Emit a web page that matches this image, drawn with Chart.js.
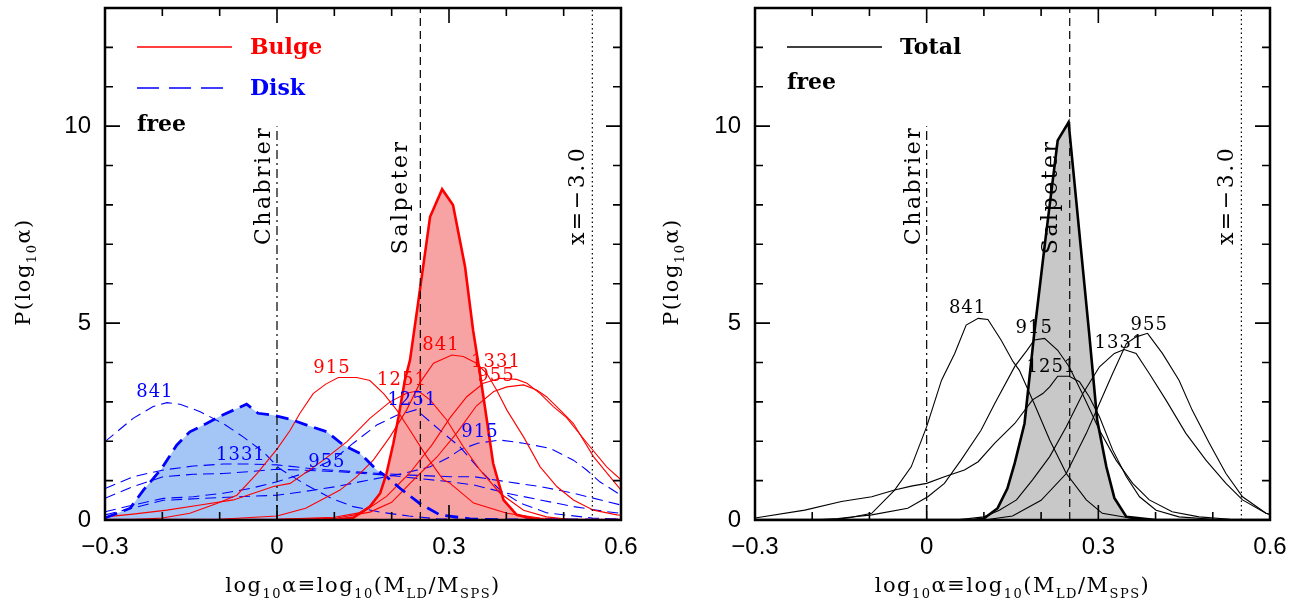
<!DOCTYPE html>
<html>
<head>
<meta charset="utf-8">
<title>IMF mismatch distributions</title>
<script src="https://cdn.jsdelivr.net/npm/chart.js@4.4.1/dist/chart.umd.min.js"></script>
<style>
  html, body { margin: 0; padding: 0; background: #fff; }
  #wrap { position: relative; width: 1295px; height: 604px; overflow: hidden; }
  canvas { position: absolute; top: 0; }
</style>
</head>
<body>
<div id="wrap">
  <canvas id="bulgeDisk" width="648" height="604" style="left:0"></canvas>
  <canvas id="total" width="647" height="604" style="left:648px"></canvas>
</div>
<script>
// axis ticks
const xTicks = [-0.3, 0, 0.3, 0.6];
const yTicks = [0, 5, 10];

// reference IMFs (log10 alpha)
const imfNames = ['Chabrier', 'Salpeter', 'x=\u22123.0'];
const imfValues = [0, 0.25, 0.55];

// galaxy ids, same order in every label list below
const runIds = ['841', '915', '955', '1251', '1331'];

// P(log10 alpha), bulge component  [log10 alpha, P]
const bulgeTotal = [[-0.3,0],[0.1,0],[0.133,0.06],[0.162,0.34],[0.18,0.68],[0.191,1.18],[0.203,1.95],[0.212,2.62],[0.223,3.55],[0.232,4.06],[0.246,5.5],[0.267,7.7],[0.288,8.4],[0.307,8.0],[0.328,6.43],[0.342,4.82],[0.354,3.72],[0.366,2.54],[0.377,1.44],[0.395,0.51],[0.418,0.13],[0.441,0.05],[0.47,0],[0.6,0]];
const bulge841 = [[-0.3,0],[-0.1,0.02],[0,0.1],[0.05,0.3],[0.11,0.76],[0.139,1.1],[0.168,1.52],[0.197,2.11],[0.226,2.79],[0.25,3.5],[0.273,3.98],[0.305,4.19],[0.325,4.15],[0.348,3.98],[0.366,3.72],[0.383,3.3],[0.401,2.79],[0.43,2.11],[0.459,1.35],[0.488,0.85],[0.517,0.51],[0.552,0.25],[0.593,0.13],[0.6,0.12]];
const bulge915 = [[-0.3,0],[-0.25,0.01],[-0.2,0.05],[-0.152,0.17],[-0.105,0.42],[-0.07,0.63],[-0.035,1.18],[0,1.8],[0.023,2.28],[0.04,2.71],[0.063,3.21],[0.085,3.45],[0.107,3.62],[0.139,3.62],[0.162,3.54],[0.186,3.21],[0.209,2.79],[0.232,2.28],[0.261,1.61],[0.29,1.02],[0.302,0.93],[0.343,0.43],[0.401,0.17],[0.459,0.05],[0.52,0],[0.6,0]];
const bulge955 = [[-0.3,0],[0,0.01],[0.1,0.04],[0.162,0.2],[0.2,0.45],[0.232,0.93],[0.279,1.6],[0.313,2.2],[0.348,2.9],[0.378,3.26],[0.401,3.38],[0.43,3.43],[0.453,3.3],[0.47,3.13],[0.494,2.79],[0.517,2.45],[0.552,1.61],[0.6,0.76]];
const bulge1251 = [[-0.3,0.08],[-0.251,0.15],[-0.192,0.25],[-0.134,0.38],[-0.076,0.51],[-0.006,0.85],[0.023,0.93],[0.081,1.52],[0.122,1.99],[0.162,2.58],[0.197,3.0],[0.226,3.22],[0.246,3.28],[0.267,3.05],[0.296,2.54],[0.325,1.86],[0.354,1.27],[0.389,0.68],[0.43,0.25],[0.47,0.08],[0.52,0],[0.6,0]];
const bulge1331 = [[-0.3,0],[0,0.02],[0.1,0.07],[0.15,0.2],[0.191,0.6],[0.232,1.2],[0.27,1.9],[0.302,2.6],[0.331,3.13],[0.36,3.47],[0.389,3.6],[0.418,3.57],[0.436,3.47],[0.459,3.21],[0.482,2.88],[0.505,2.6],[0.546,1.86],[0.575,1.35],[0.6,1.02]];

// P(log10 alpha), disk component
const diskTotal = [[-0.3,0.05],[-0.256,0.3],[-0.233,0.76],[-0.201,1.31],[-0.175,1.9],[-0.152,2.24],[-0.123,2.45],[-0.099,2.64],[-0.076,2.79],[-0.053,2.94],[-0.033,2.71],[-0.006,2.66],[0.023,2.56],[0.052,2.41],[0.087,2.24],[0.116,1.9],[0.145,1.69],[0.174,1.27],[0.191,1.1],[0.215,0.8],[0.249,0.42],[0.284,0.13],[0.337,0.03],[0.4,0],[0.6,0]];
const disk841 = [[-0.3,1.99],[-0.251,2.58],[-0.216,2.88],[-0.192,2.98],[-0.169,2.94],[-0.134,2.75],[-0.094,2.45],[-0.059,2.11],[-0.024,1.73],[0.005,1.3],[0.05,0.9],[0.095,0.55],[0.133,0.34],[0.18,0.2],[0.23,0.1],[0.28,0.03],[0.35,0],[0.6,0]];
const disk915 = [[-0.3,0.13],[-0.198,0.5],[-0.1,0.57],[0,0.63],[0.046,0.72],[0.104,0.85],[0.162,1.02],[0.22,1.18],[0.267,1.35],[0.302,1.61],[0.319,1.78],[0.35,1.95],[0.389,2.03],[0.43,1.95],[0.476,1.82],[0.517,1.52],[0.54,1.27],[0.563,0.97],[0.6,0.63]];
const disk955 = [[-0.3,0.55],[-0.251,0.85],[-0.198,1.1],[-0.146,1.16],[-0.094,1.18],[-0.047,1.23],[0,1.29],[0.104,1.23],[0.191,1.14],[0.302,0.97],[0.343,0.89],[0.401,0.68],[0.459,0.51],[0.517,0.34],[0.575,0.21],[0.6,0.17]];
const disk1251 = [[-0.3,0.21],[-0.251,0.38],[-0.198,0.55],[-0.146,0.59],[-0.094,0.68],[-0.047,0.8],[0,0.97],[0.05,1.2],[0.1,1.55],[0.133,1.95],[0.174,2.41],[0.209,2.66],[0.243,2.8],[0.284,2.28],[0.319,1.86],[0.354,1.27],[0.389,0.76],[0.424,0.43],[0.471,0.18],[0.55,0.05],[0.6,0.02]];
const disk1331 = [[-0.3,0.8],[-0.251,1.1],[-0.198,1.27],[-0.146,1.37],[-0.094,1.42],[-0.047,1.42],[0,1.4],[0.063,1.3],[0.18,1.18],[0.232,1.14],[0.302,1.1],[0.343,1.1],[0.401,0.97],[0.459,0.85],[0.517,0.68],[0.575,0.47],[0.6,0.38]];

// P(log10 alpha), whole galaxy
const galTotal = [[-0.3,0],[0.08,0],[0.1,0.04],[0.124,0.3],[0.141,0.8],[0.154,1.45],[0.171,2.45],[0.188,4.74],[0.206,6.94],[0.229,9.64],[0.248,10.1],[0.284,4.74],[0.298,2.54],[0.314,1.35],[0.328,0.56],[0.349,0.08],[0.4,0],[0.6,0]];
const gal841 = [[-0.3,0],[-0.17,0],[-0.138,0.05],[-0.096,0.17],[-0.056,0.76],[-0.027,1.35],[0,2.37],[0.026,3.55],[0.049,4.23],[0.069,4.95],[0.09,5.12],[0.107,5.09],[0.13,4.57],[0.151,4.02],[0.162,3.8],[0.188,2.95],[0.215,2.03],[0.244,1.18],[0.279,0.51],[0.307,0.17],[0.36,0.04],[0.42,0],[0.6,0]];
const gal915 = [[-0.3,0],[-0.2,0],[-0.155,0.04],[-0.096,0.13],[-0.033,0.3],[0.002,0.59],[0.031,0.93],[0.06,1.52],[0.095,2.28],[0.119,2.96],[0.154,3.9],[0.175,4.3],[0.188,4.57],[0.206,4.61],[0.229,4.31],[0.249,3.89],[0.272,3.21],[0.302,2.28],[0.331,1.52],[0.36,0.93],[0.389,0.51],[0.429,0.21],[0.476,0.08],[0.53,0.02],[0.6,0]];
const gal955 = [[-0.3,0],[0.1,0],[0.15,0.1],[0.2,0.5],[0.244,1.18],[0.279,2.2],[0.302,2.96],[0.325,3.72],[0.349,4.48],[0.366,4.65],[0.386,4.74],[0.412,4.23],[0.441,3.55],[0.464,2.79],[0.494,1.95],[0.523,1.18],[0.552,0.59],[0.593,0.17],[0.6,0.14]];
const gal1251 = [[-0.3,0.05],[-0.213,0.25],[-0.149,0.47],[-0.096,0.59],[-0.056,0.76],[-0.027,0.86],[0,0.93],[0.031,1.1],[0.066,1.27],[0.09,1.48],[0.119,1.95],[0.154,2.45],[0.185,3.05],[0.203,3.21],[0.215,3.38],[0.229,3.65],[0.249,3.65],[0.267,3.51],[0.284,3.13],[0.302,2.62],[0.325,1.78],[0.349,1.1],[0.372,0.59],[0.401,0.25],[0.441,0.08],[0.5,0.02],[0.6,0]];
const gal1331 = [[-0.3,0],[0.05,0],[0.1,0.08],[0.127,0.25],[0.157,0.51],[0.185,1.02],[0.215,1.61],[0.244,2.37],[0.273,3.21],[0.302,3.89],[0.328,4.23],[0.345,4.33],[0.366,4.23],[0.389,3.72],[0.418,3.05],[0.453,2.2],[0.488,1.52],[0.523,0.93],[0.552,0.51],[0.593,0.17],[0.6,0.14]];

const RED = '#ff0000';
const BLUE = '#0000ff';
const SERIF = '"DejaVu Serif", serif';
const SANS = '"Liberation Sans", Arial, sans-serif';

const pts = arr => arr.map(([x, y]) => ({ x, y }));

function curve(arr, color, opts) {
  return Object.assign({
    data: pts(arr), showLine: true, borderColor: color, borderWidth: 1.1,
    pointRadius: 0, fill: false, tension: 0
  }, opts || {});
}

// text made of [string, isSubscript] pieces, centred on x
function richText(ctx, parts, x, y, size, spacing) {
  const sub = Math.round(size * 0.62);
  ctx.letterSpacing = spacing + 'px';
  let w = 0;
  parts.forEach(([t, s]) => {
    ctx.font = (s ? sub : size) + 'px ' + SERIF;
    w += ctx.measureText(t).width;
  });
  let cx = x - w / 2;
  parts.forEach(([t, s]) => {
    ctx.font = (s ? sub : size) + 'px ' + SERIF;
    ctx.fillText(t, cx, s ? y + size * 0.3 : y);
    cx += ctx.measureText(t).width;
  });
  ctx.letterSpacing = '0px';
}

const xTitle = [['log', 0], ['10', 1], ['\u03b1\u2261log', 0], ['10', 1], ['(M', 0], ['LD', 1], ['/M', 0], ['SPS', 1], [')', 0]];
const yTitle = [['P(log', 0], ['10', 1], ['\u03b1)', 0]];

function framePlugin(cfg) {
  return {
    id: 'frame',
    afterDatasetsDraw(chart) {
      const { ctx, chartArea: a, scales: { x, y } } = chart;
      ctx.save();
      ctx.strokeStyle = '#000';
      ctx.fillStyle = '#000';
      const dashes = [[9, 4, 2, 4], [8, 5], [1.5, 3]];
      const gaps = [7, 13, 8];
      imfValues.forEach((v, i) => {
        const px = x.getPixelForValue(v);
        const top = i === 0 ? y.getPixelForValue(10) : a.top;
        ctx.lineWidth = 1.2;
        ctx.setLineDash(dashes[i]);
        ctx.beginPath();
        ctx.moveTo(px, a.bottom);
        ctx.lineTo(px, top);
        ctx.stroke();
        ctx.setLineDash([]);
        ctx.save();
        ctx.translate(px - gaps[i], y.getPixelForValue(i === 1 ? 6.75 : 6.98));
        ctx.rotate(-Math.PI / 2);
        ctx.font = '22px ' + SERIF;
        ctx.letterSpacing = '2.5px';
        ctx.textAlign = 'left';
        ctx.textBaseline = 'alphabetic';
        ctx.fillText(imfNames[i], 0, 0);
        ctx.restore();
      });
      // run labels
      ctx.textAlign = 'center';
      ctx.textBaseline = 'middle';
      ctx.font = '18px ' + SERIF;
      ctx.letterSpacing = '1px';
      cfg.labels.forEach(({ pos, color }) => {
        ctx.fillStyle = color;
        pos.forEach(([lx, ly], i) => {
          ctx.fillText(runIds[i], x.getPixelForValue(lx), y.getPixelForValue(ly));
        });
      });
      ctx.restore();
    },
    afterDraw(chart) {
      const { ctx, chartArea: a, scales: { x, y } } = chart;
      ctx.save();
      ctx.strokeStyle = '#000';
      ctx.fillStyle = '#000';
      // inward ticks on all four sides
      ctx.lineWidth = 1.6;
      ctx.beginPath();
      for (let i = -3; i <= 6; i++) {
        const px = x.getPixelForValue(i / 10);
        const len = i % 3 === 0 ? 15 : 8;
        ctx.moveTo(px, a.bottom); ctx.lineTo(px, a.bottom - len);
        ctx.moveTo(px, a.top); ctx.lineTo(px, a.top + len);
      }
      for (let i = 0; i <= 13; i++) {
        const py = y.getPixelForValue(i);
        const len = i % 5 === 0 ? 15 : 8;
        ctx.moveTo(a.left, py); ctx.lineTo(a.left + len, py);
        ctx.moveTo(a.right, py); ctx.lineTo(a.right - len, py);
      }
      ctx.stroke();
      ctx.lineWidth = 2.5;
      ctx.strokeRect(a.left, a.top, a.right - a.left, a.bottom - a.top);

      // axis titles
      ctx.textBaseline = 'alphabetic';
      richText(ctx, xTitle, (a.left + a.right) / 2, 592, 21, 1.5);
      ctx.save();
      ctx.translate(cfg.yTitleX, (a.top + a.bottom) / 2 + 8);
      ctx.rotate(-Math.PI / 2);
      richText(ctx, yTitle, 0, 0, 21, 1.5);
      ctx.restore();

      // legend
      const lx = a.left + 32;
      ctx.lineWidth = 1.6;
      ctx.font = 'bold 22px ' + SERIF;
      ctx.textBaseline = 'middle';
      ctx.textAlign = 'left';
      cfg.legend.forEach(({ text, color, dash, dy }) => {
        const ly = a.top + dy;
        ctx.strokeStyle = color;
        ctx.setLineDash(dash);
        ctx.beginPath();
        ctx.moveTo(lx, ly); ctx.lineTo(lx + 95, ly);
        ctx.stroke();
        ctx.setLineDash([]);
        ctx.fillStyle = color;
        ctx.fillText(text, lx + 113, ly + 1);
      });
      ctx.fillStyle = '#000';
      ctx.fillText('free', lx, a.top + cfg.freeDy);
      ctx.restore();
    }
  };
}

function makeChart(id, datasets, cfg) {
  return new Chart(document.getElementById(id), {
    type: 'scatter',
    data: { datasets },
    options: {
      responsive: false,
      animation: false,
      devicePixelRatio: 1,
      layout: { padding: { top: 8, right: cfg.padRight, left: 0, bottom: 0 } },
      plugins: {
        legend: { display: false },
        tooltip: { enabled: false },
        filler: { drawTime: 'beforeDatasetsDraw' }
      },
      scales: {
        x: {
          type: 'linear', min: -0.3, max: 0.6,
          afterBuildTicks: s => { s.ticks = xTicks.map(v => ({ value: v })); },
          afterFit: s => { s.height = 84; s.paddingLeft = 0; s.paddingRight = 0; },
          grid: { display: false, drawTicks: false },
          border: { display: false },
          ticks: {
            autoSkip: false, maxRotation: 0, padding: 13, color: '#000',
            font: { family: SANS, size: 24 },
            callback: v => v === 0 ? '0' : (v < 0 ? '\u2212' : '') + Math.abs(v).toFixed(1)
          }
        },
        y: {
          type: 'linear', min: 0, max: 13,
          afterBuildTicks: s => { s.ticks = yTicks.map(v => ({ value: v })); },
          afterFit: s => { s.width = cfg.yWidth; s.paddingTop = 0; s.paddingBottom = 0; },
          grid: { display: false, drawTicks: false },
          border: { display: false },
          ticks: {
            autoSkip: false, padding: 14, color: '#000',
            font: { family: SANS, size: 24 },
            callback: v => String(v)
          }
        }
      }
    },
    plugins: [framePlugin(cfg)]
  });
}

// bulge / disk panel
makeChart('bulgeDisk', [
  curve(bulgeTotal, RED, { borderWidth: 2.6, fill: 'origin', backgroundColor: '#f8a3a3' }),
  curve(diskTotal, BLUE, { borderWidth: 2.8, borderDash: [13, 7], fill: 'origin', backgroundColor: '#a3c6f6' }),
  curve(bulge841, RED), curve(bulge915, RED), curve(bulge955, RED),
  curve(bulge1251, RED), curve(bulge1331, RED),
  curve(disk841, BLUE, { borderDash: [11, 6] }), curve(disk915, BLUE, { borderDash: [11, 6] }),
  curve(disk955, BLUE, { borderDash: [11, 6] }), curve(disk1251, BLUE, { borderDash: [11, 6] }),
  curve(disk1331, BLUE, { borderDash: [11, 6] })
], {
  yWidth: 105, padRight: 27, yTitleX: 30,
  labels: [
    { color: RED, pos: [[0.286, 4.44], [0.096, 3.86], [0.382, 3.65], [0.218, 3.55], [0.382, 4.01]] },
    { color: BLUE, pos: [[-0.213, 3.25], [0.354, 2.23], [0.087, 1.47], [0.236, 3.05], [-0.063, 1.65]] }
  ],
  legend: [
    { text: 'Bulge', color: RED, dash: [], dy: 39 },
    { text: 'Disk', color: BLUE, dash: [22, 10], dy: 80 }
  ],
  freeDy: 117
});

// total panel
makeChart('total', [
  curve(galTotal, '#000', { borderWidth: 2.6, fill: 'origin', backgroundColor: '#c8c8c8' }),
  curve(gal841, '#000'), curve(gal915, '#000'), curve(gal955, '#000'),
  curve(gal1251, '#000'), curve(gal1331, '#000')
], {
  yWidth: 107, padRight: 25, yTitleX: 30,
  labels: [
    { color: '#000', pos: [[0.0715, 5.38], [0.188, 4.87], [0.389, 4.95], [0.218, 3.88], [0.337, 4.49]] }
  ],
  legend: [
    { text: 'Total', color: '#000', dash: [], dy: 39 }
  ],
  freeDy: 75
});
</script>
</body>
</html>
